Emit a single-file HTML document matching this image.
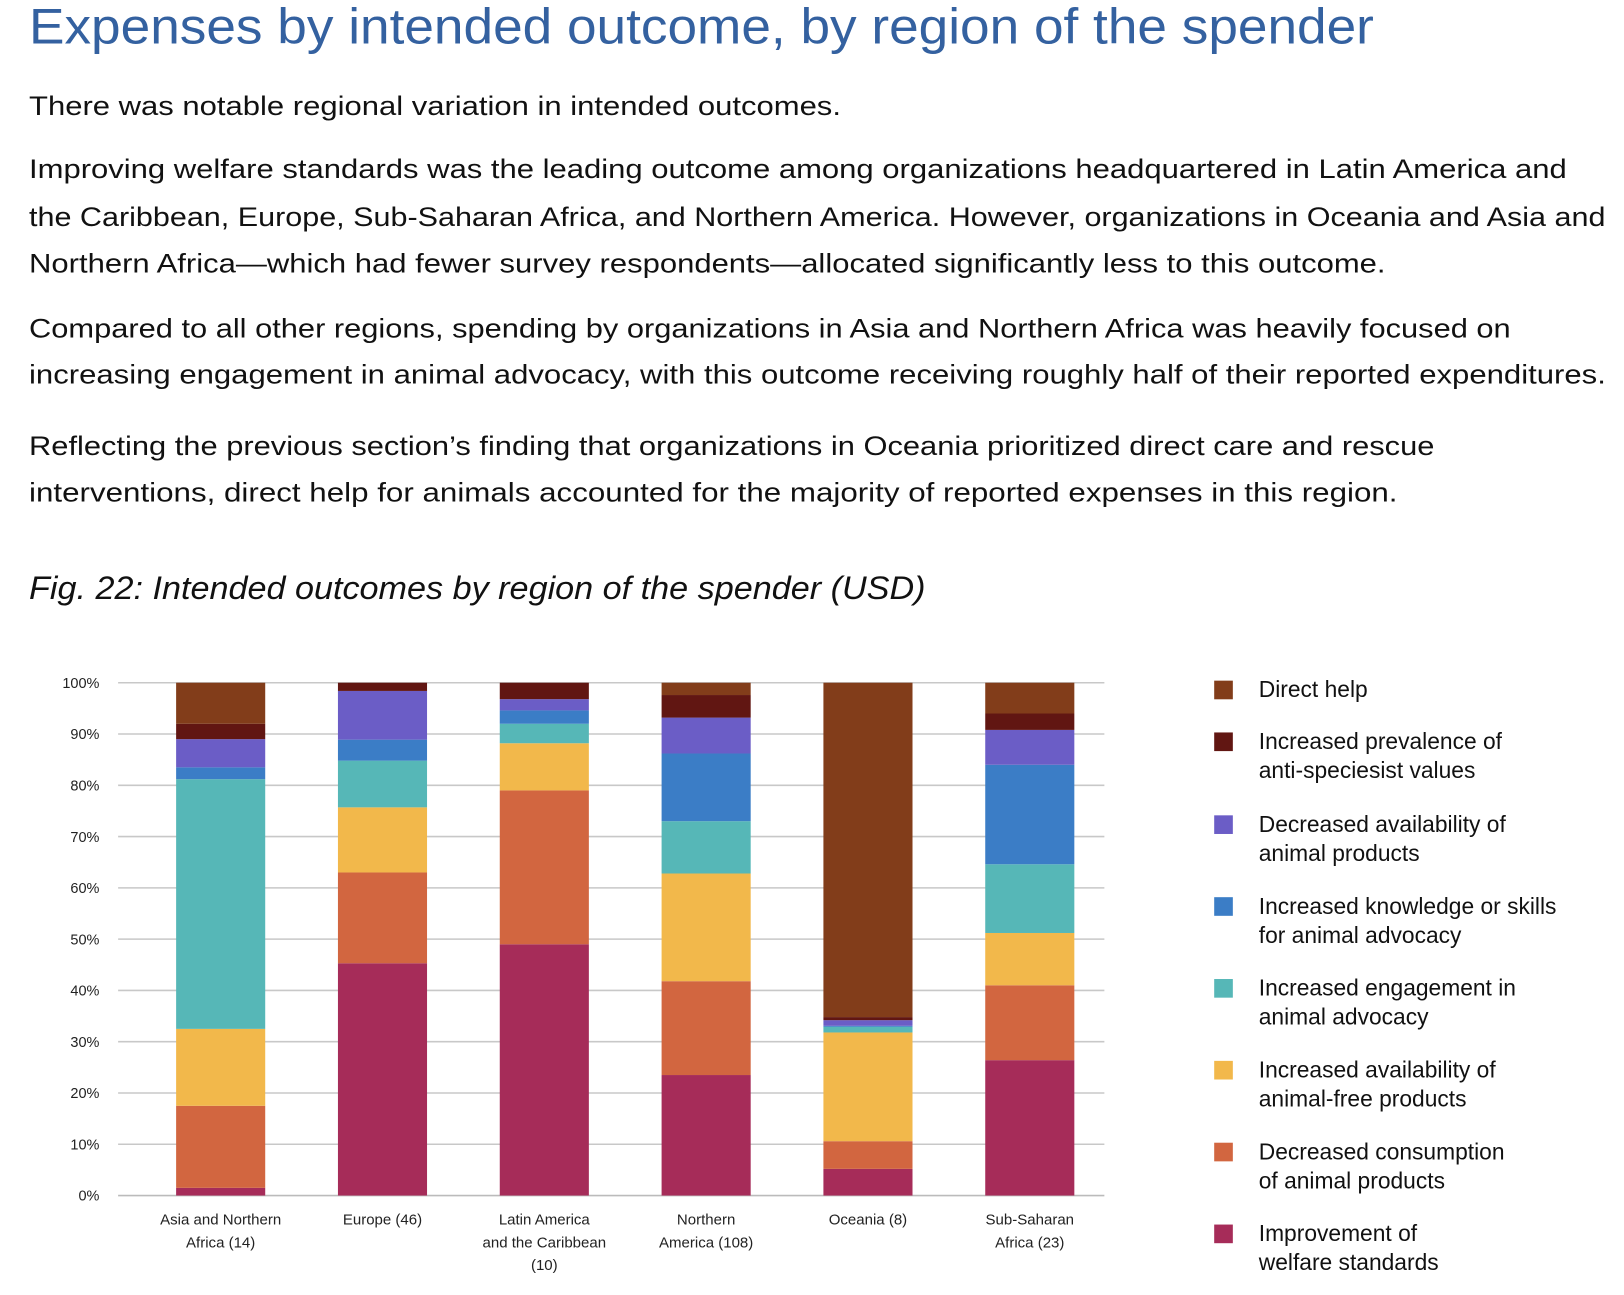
<!DOCTYPE html>
<html><head><meta charset="utf-8">
<style>
body{margin:0;width:1624px;height:1294px;background:#fff;position:relative;overflow:hidden;font-family:"Liberation Sans",sans-serif;}
#wrap{position:absolute;left:0;top:0;width:1570px;height:1250px;transform:scale(1.036);transform-origin:0 0;}
.t{position:absolute;left:28px;white-space:nowrap;transform-origin:0 50%;line-height:1;}
.p{font-size:26px;color:#111;}
#title{font-size:48px;color:#3461a0;}
#cap{font-size:31px;font-style:italic;color:#111;}
svg{position:absolute;left:0;top:0;}
.leg{position:absolute;left:1172px;font-size:22px;color:#111;line-height:28px;}
.leg i{position:absolute;left:0;width:18px;height:18px;}
.leg span{position:absolute;left:43px;white-space:nowrap;}
</style></head><body>
<div id="wrap">
<div id="title" class="t" data-w="1298" style="top:3px">Expenses by intended outcome, by region of the spender</div>
<div class="t p" data-w="784" style="top:89px">There was notable regional variation in intended outcomes.</div>
<div class="t p" data-w="1484" style="top:150px">Improving welfare standards was the leading outcome among organizations headquartered in Latin America and</div>
<div class="t p" data-w="1522" style="top:196px">the Caribbean, Europe, Sub-Saharan Africa, and Northern America. However, organizations in Oceania and Asia and</div>
<div class="t p" data-w="1309" style="top:241px">Northern Africa—which had fewer survey respondents—allocated significantly less to this outcome.</div>
<div class="t p" data-w="1430" style="top:304px">Compared to all other regions, spending by organizations in Asia and Northern Africa was heavily focused on</div>
<div class="t p" data-w="1522" style="top:348px">increasing engagement in animal advocacy, with this outcome receiving roughly half of their reported expenditures.</div>
<div class="t p" data-w="1357" style="top:417px">Reflecting the previous section’s finding that organizations in Oceania prioritized direct care and rescue</div>
<div class="t p" data-w="1321" style="top:462px">interventions, direct help for animals accounted for the majority of reported expenses in this region.</div>
<div id="cap" class="t" data-w="865" style="top:552px">Fig. 22: Intended outcomes by region of the spender (USD)</div>

<svg id="chart" width="1570" height="1250"></svg>
<div id="legend"></div>
</div>

<script>
const categories=[["Asia and Northern","Africa (14)"],["Europe (46)"],["Latin America","and the Caribbean","(10)"],["Northern","America (108)"],["Oceania (8)"],["Sub-Saharan","Africa (23)"]];
const seriesNames=[["Improvement of","welfare standards"],["Decreased consumption","of animal products"],["Increased availability of","animal-free products"],["Increased engagement in","animal advocacy"],["Increased knowledge or skills","for animal advocacy"],["Decreased availability of","animal products"],["Increased prevalence of","anti-speciesist values"],["Direct help"]];
const colors=["#a62c59","#d26640","#f2b84b","#56b7b7","#3b7dc6","#6b5dc6","#611612","#823d1a"];
const welfare=[1.5,45.3,49,23.5,5.2,26.4];
const consumption=[16,17.7,30,18.3,5.4,14.6];
const animalFree=[15,12.7,9.2,21,21.2,10.2];
const engagement=[48.7,9.1,3.8,10.2,1.1,13.4];
const knowledge=[2.3,4.1,2.6,13.2,0.2,19.4];
const decAvail=[5.5,9.5,2.2,7,1.1,6.8];
const antiSpeciesist=[3,1.6,3.2,4.4,0.6,3.2];
const directHelp=[8,0,0,2.4,65.2,6];
const ticks=[0,10,20,30,40,50,60,70,80,90,100];
const series=[welfare,consumption,animalFree,engagement,knowledge,decAvail,antiSpeciesist,directHelp];

const NS="http://www.w3.org/2000/svg";
const svg=document.getElementById('chart');
const X0=114,X1=1066,Y0=1154,Y1=659,BW=86;
const y=v=>Y0-(v/100)*(Y0-Y1);
const FIRST=213,STEP=156.2;
const xc=i=>FIRST+i*STEP;
function mk(tag,attrs){const e=document.createElementNS(NS,tag);for(const k in attrs)e.setAttribute(k,attrs[k]);svg.appendChild(e);return e;}
ticks.forEach(t=>{
  const l=mk('line',{x1:X0,x2:X1,y1:y(t),y2:y(t),stroke:t===0?'#bbb':'#c8c8c8','stroke-width':1.5});
  
  
  const tx=mk('text',{x:96,y:y(t)+5,'text-anchor':'end','font-size':14,fill:'#222','font-family':'Liberation Sans, sans-serif'});
  tx.textContent=t+'%';
  
  
});
categories.forEach((c,i)=>{
  let acc=0;
  series.forEach((s,j)=>{
    const v=s[i];
    if(v>0){
      const r=mk('rect',{x:xc(i)-BW/2,y:y(acc+v),width:BW,height:y(acc)-y(acc+v),fill:colors[j]});
      
      
    }
    acc+=v;
  });
  c.forEach((line,k)=>{
    const tx=mk('text',{x:xc(i),y:1182+k*22,'text-anchor':'middle','font-size':14.5,fill:'#222','font-family':'Liberation Sans, sans-serif'});
    tx.textContent=line;
    
    
  });
});
const legTops=[652,702,782,861,940,1019,1098,1177];
const leg=document.getElementById('legend');
for(let j=7;j>=0;j--){
  const d=document.createElement('div');
  d.className='leg';
  
  
  d.style.top=legTops[7-j]+'px';
  d.innerHTML='<i style="background:'+colors[j]+';top:5px"></i><span>'+seriesNames[j].join('<br>')+'</span>';
  leg.appendChild(d);
}
document.querySelectorAll('.t').forEach(el=>{
  const w=+el.getAttribute('data-w');const a=el.offsetWidth;
  if(a>0)el.style.transform='scaleX('+(w/a)+')';
});
</script>
</body></html>
